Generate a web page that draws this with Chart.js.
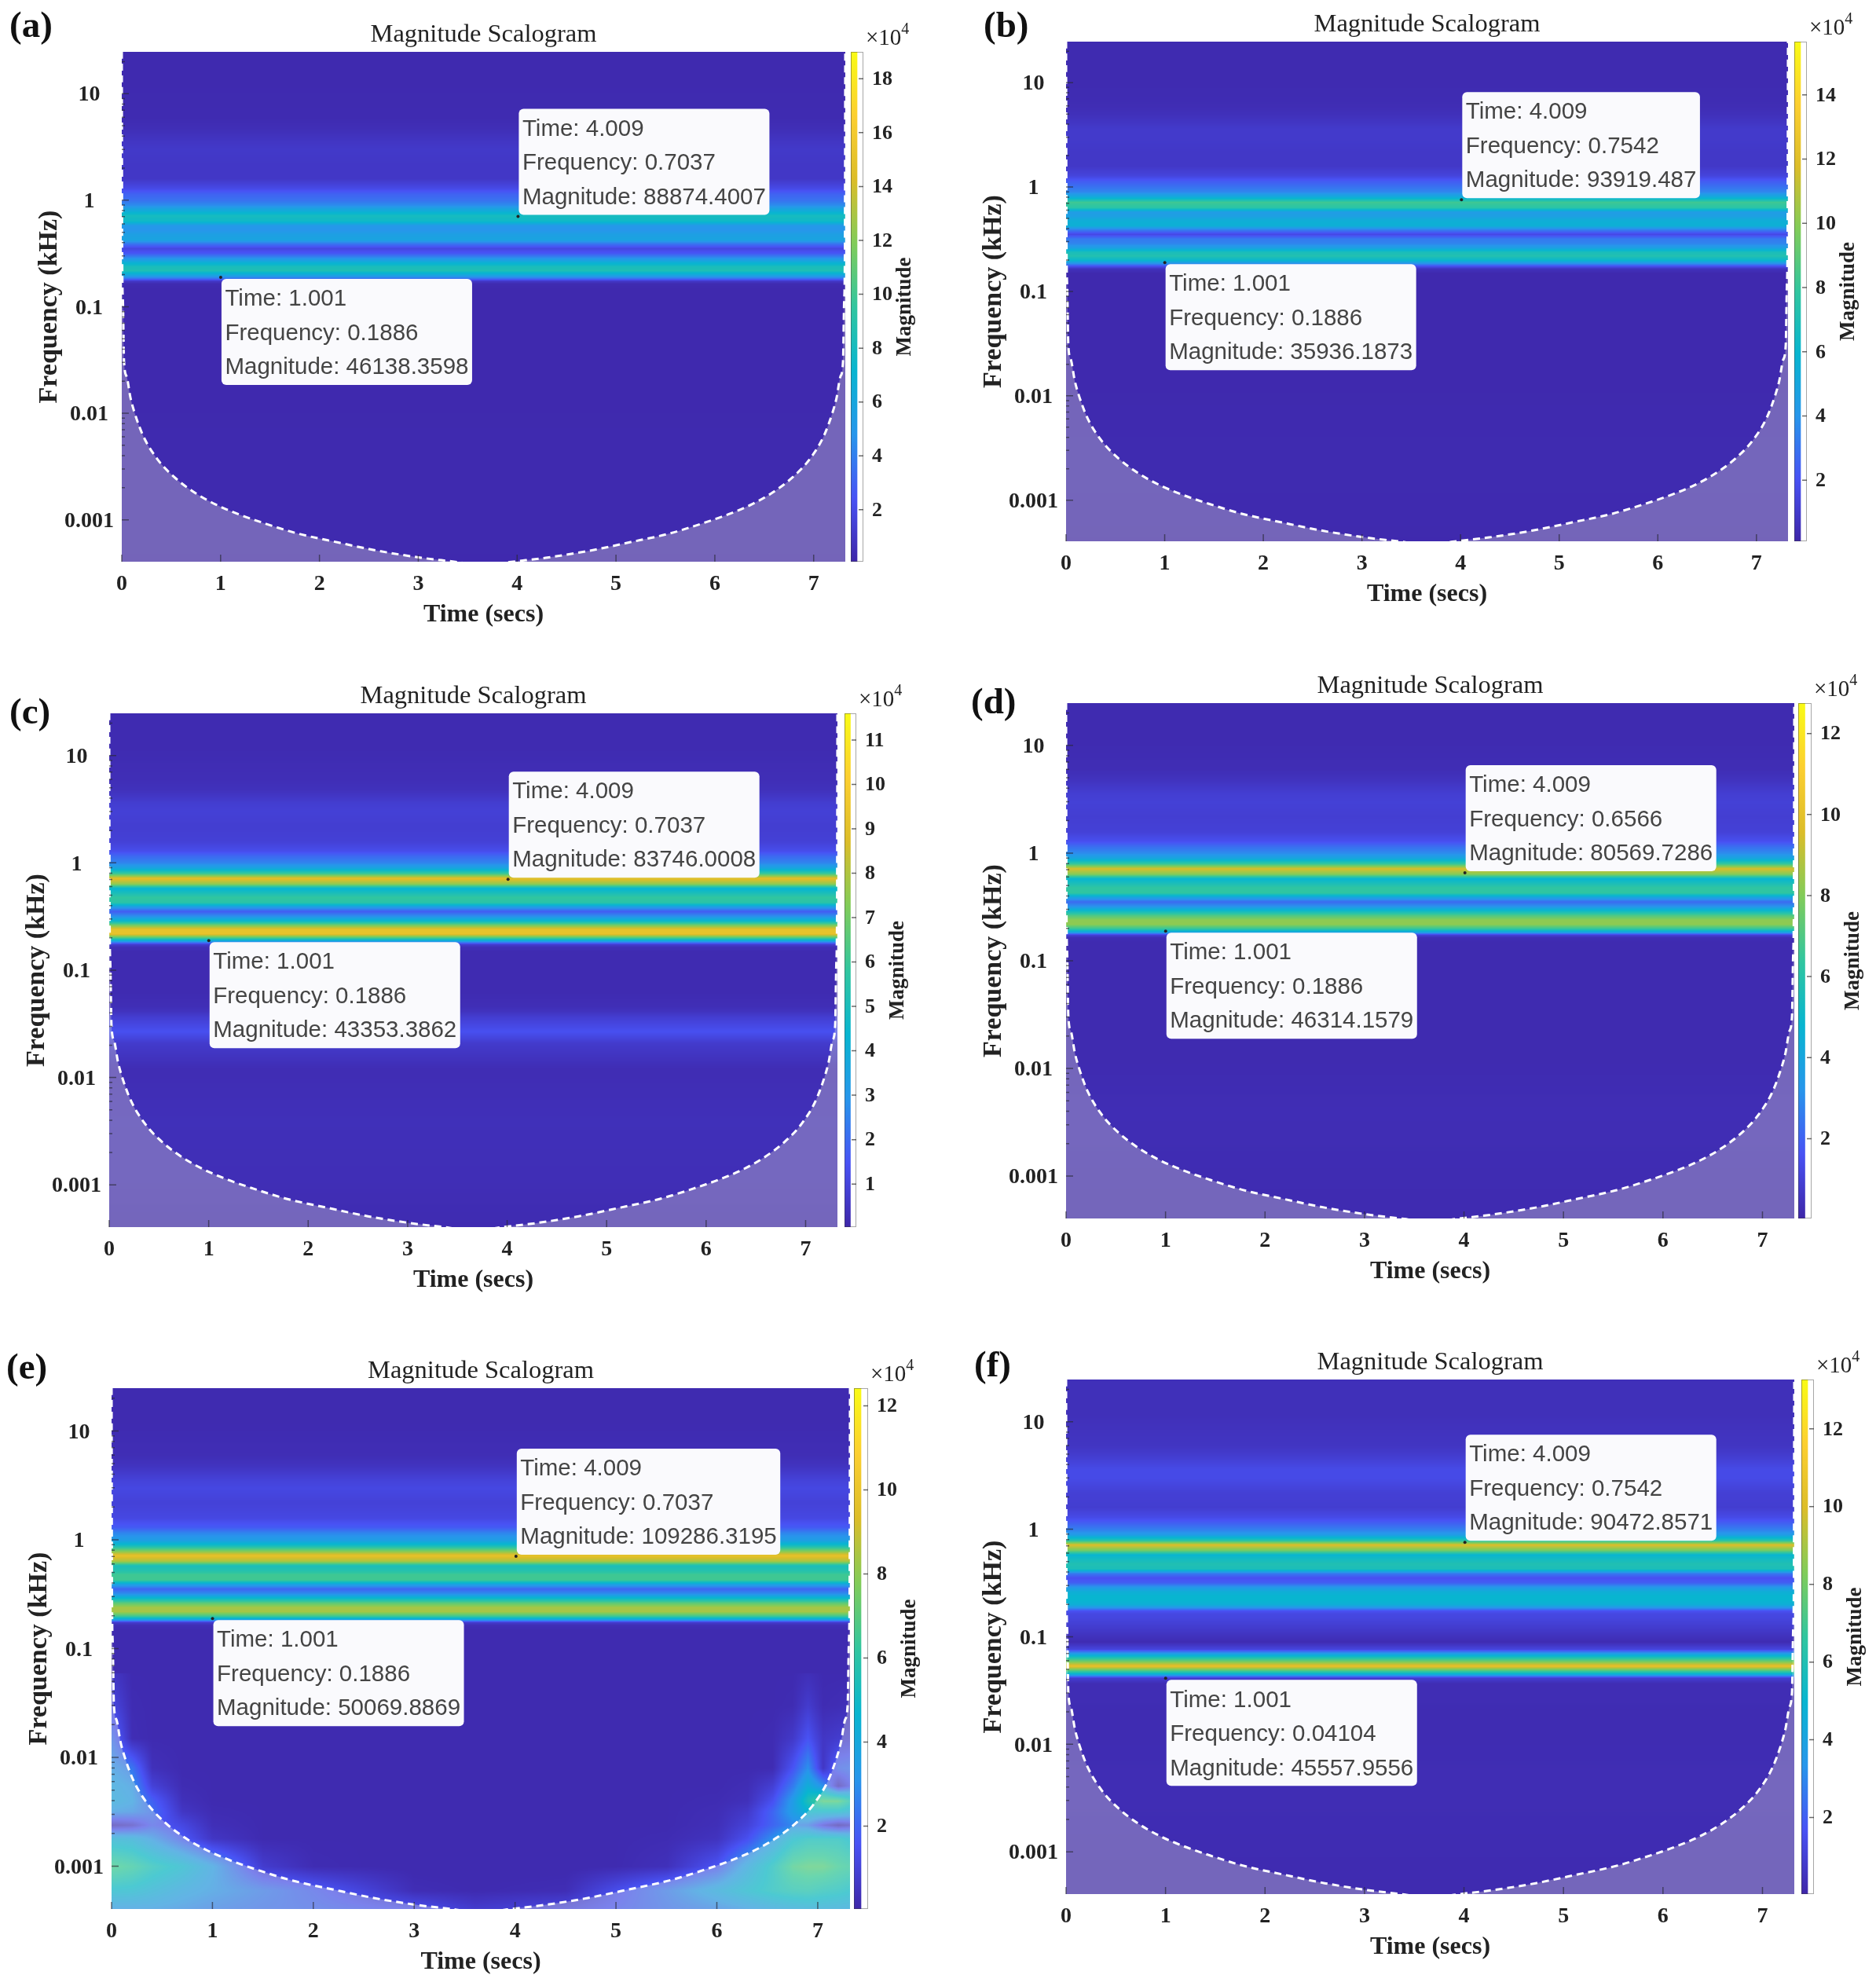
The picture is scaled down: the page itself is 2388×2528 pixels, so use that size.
<!DOCTYPE html>
<html>
<head>
<meta charset="utf-8">
<title>Magnitude Scalograms</title>
<script src="https://cdn.jsdelivr.net/npm/chart.js@4/dist/chart.umd.min.js"></script>
<style>
  html, body { margin: 0; padding: 0; background: #fff; }
  #page { position: relative; width: 2388px; height: 2528px; overflow: hidden; }
  #page canvas { position: absolute; }
  .tag { position: absolute; font: bold 47px "Liberation Serif", serif; color: #111; line-height: 1; }
</style>
</head>
<body>
<div id="page"></div>
<script>
// axis ticks
const timeTicks = [0, 1, 2, 3, 4, 5, 6, 7];
const freqTicks = [10, 1, 0.1, 0.01, 0.001];
const timeMax = 7.32;
const freqMax = 24.7;
const freqMin = 0.000404;

// frequency rows of the scalogram (kHz), top to bottom
const freqRows = [24.7, 12, 6, 4.8, 3.6, 3, 2.2,
  1.6, 1.3, 1.15, 1, 0.9, 0.8, 0.72, 0.64, 0.58, 0.53, 0.48, 0.43, 0.39, 0.355, 0.32, 0.29, 0.265, 0.24, 0.22, 0.2, 0.185, 0.175, 0.165, 0.15,
  0.12, 0.09, 0.0769, 0.0632, 0.0537, 0.0462, 0.0416, 0.0369, 0.027, 0.0208, 0.012, 0.004, 0.0012, 0.000404];

// magnitude per row (x 10^4)
const magA = [0.3, 0.3, 0.35, 0.5, 0.9, 1.1, 1,
  1, 2, 3, 3.6, 4.5, 6.5, 8, 7.6, 5, 4.8, 5.5, 5.8, 3.5, 1.8, 2.6, 4.5, 6.5, 8.2, 8.5, 6, 3.5, 1, 0.35, 0.25,
  0.25, 0.25, 0.25, 0.25, 0.25, 0.25, 0.25, 0.25, 0.25, 0.25, 0.25, 0.3, 0.3, 0.25];
const magB = [0.3, 0.3, 0.4, 0.6, 1, 1, 0.9,
  0.9, 1.4, 2.3, 3, 3.6, 5.5, 8.2, 7.6, 4.4, 4.6, 5.5, 5.6, 3.2, 1.6, 3.2, 3.5, 4.5, 6.8, 7.2, 6, 3.6, 1.8, 0.6, 0.25,
  0.25, 0.25, 0.25, 0.25, 0.25, 0.25, 0.25, 0.25, 0.25, 0.25, 0.25, 0.3, 0.3, 0.25];
const magC = [0.2, 0.2, 0.3, 0.4, 0.8, 0.9, 0.8,
  0.9, 1.3, 2, 2.6, 3.6, 6, 9, 7.5, 4.3, 5, 5.8, 5.6, 3.2, 1.7, 2.8, 4.5, 7, 9.2, 9.2, 6, 2.8, 0.8, 0.3, 0.2,
  0.2, 0.2, 0.2, 0.2, 0.25, 0.3, 0.45, 0.8, 1.4, 0.7, 0.25, 0.35, 0.3, 0.2];
const magD = [0.2, 0.2, 0.3, 0.5, 0.9, 1, 0.9,
  1, 1.5, 2.3, 3, 4, 6.5, 9.5, 8, 4.8, 5.5, 6.3, 6.3, 3.8, 2.2, 3.2, 5.3, 7, 8.2, 8.2, 6.5, 3.8, 1, 0.3, 0.2,
  0.2, 0.2, 0.2, 0.2, 0.2, 0.2, 0.2, 0.2, 0.2, 0.2, 0.2, 0.3, 0.25, 0.2];
const magE = [0.2, 0.2, 0.3, 0.5, 1, 1.2, 1,
  1.2, 1.8, 2.8, 3.5, 5, 7.5, 9.8, 8.5, 5.4, 5.7, 6.5, 6.5, 3.6, 2, 3, 5, 7, 8.4, 8.4, 6.5, 3.5, 0.8, 0.3, 0.2,
  0.2, 0.2, 0.2, 0.2, 0.2, 0.2, 0.2, 0.2, 0.2, 0.2, 0.2, 0.2, 0.2, 0.2];
const magF = [0.4, 0.4, 0.6, 0.9, 1.4, 1.4, 1,
  0.9, 1.4, 2, 2.8, 3.6, 6, 10, 8, 5, 5.5, 6, 5.8, 2.6, 1.6, 2, 3.5, 4.6, 5, 5, 4.6, 3, 1.6, 1.3, 1.2,
  0.8, 0.25, 1.2, 6.5, 10.5, 5.5, 0.9, 0.3, 0.3, 0.25, 0.25, 0.3, 0.25, 0.2];

// panel (e) only: low-frequency part that changes with time
const fieldTimes = [0, 0.2, 0.4, 0.7, 1, 1.5, 2, 3, 3.6, 4.5, 5, 5.5, 6, 6.3, 6.55, 6.75, 6.9, 7.05, 7.2, 7.32];
const fieldFreqs = [0.06, 0.03, 0.015, 0.008, 0.0055, 0.004, 0.0032, 0.0024, 0.0018, 0.001, 0.0006, 0.000404];
const fieldE = [
  [0.6, 0.2, 0.2, 0.2, 0.2, 0.2, 0.2, 0.2, 0.2, 0.2, 0.2, 0.2, 0.2, 0.2, 0.2, 0.2, 0.35, 0.2, 0.2, 0.2],
  [1.2, 0.25, 0.2, 0.2, 0.2, 0.2, 0.2, 0.2, 0.2, 0.2, 0.2, 0.2, 0.2, 0.2, 0.2, 0.25, 0.8, 0.25, 0.3, 0.4],
  [2.2, 0.3, 0.2, 0.2, 0.2, 0.2, 0.2, 0.2, 0.2, 0.2, 0.2, 0.2, 0.2, 0.2, 0.25, 0.7, 1.6, 0.6, 0.8, 0.9],
  [3, 2.4, 0.4, 0.2, 0.2, 0.2, 0.2, 0.2, 0.2, 0.2, 0.2, 0.2, 0.2, 0.2, 0.25, 1.6, 3, 0.6, 2, 2.2],
  [3.4, 3, 1, 0.25, 0.2, 0.2, 0.2, 0.2, 0.2, 0.2, 0.2, 0.2, 0.2, 0.3, 0.9, 2.5, 4.2, 3, 0.5, 1.5],
  [3.6, 3.2, 1.9, 0.4, 0.2, 0.2, 0.2, 0.2, 0.2, 0.2, 0.2, 0.2, 0.25, 0.4, 1.5, 3.4, 5.5, 6.8, 6.8, 5.5],
  [3, 2.8, 2.2, 0.6, 0.25, 0.2, 0.2, 0.2, 0.2, 0.2, 0.2, 0.2, 0.3, 0.7, 2, 3.5, 4.5, 4.5, 4.5, 4],
  [0.5, 0.8, 1.8, 1.2, 0.35, 0.2, 0.2, 0.2, 0.2, 0.2, 0.2, 0.2, 0.35, 1, 2, 2.8, 2.5, 1.2, 0.4, 0.8],
  [4, 3.8, 3, 1.7, 0.6, 0.2, 0.2, 0.2, 0.2, 0.2, 0.2, 0.25, 0.5, 1.5, 3, 4.5, 5, 5, 5, 4.5],
  [6.5, 6, 5.2, 4.4, 3.2, 0.8, 0.25, 0.15, 0.15, 0.15, 0.2, 0.4, 1.6, 3.5, 5, 6.5, 6.8, 6.8, 6.3, 6],
  [4.5, 4.4, 4, 3.4, 3, 2.4, 1.8, 0.3, 0.2, 0.3, 1.4, 2.4, 3.6, 4.4, 5, 5.4, 5.5, 5.2, 5, 4.7],
  [3, 3, 3, 2.8, 2.5, 2.2, 2, 1.5, 0.8, 1.2, 1.7, 2.2, 2.6, 3, 3.4, 3.6, 3.7, 3.7, 3.6, 3.5]
];

// cone of influence
const coiTimes = [0, 0.004, 0.012, 0.023, 0.05, 0.088, 0.127, 0.218, 0.361, 0.53, 0.737, 0.945, 1.178, 1.438, 1.775, 2.19, 2.6, 3.03, 3.4, 3.66,
  3.92, 4.29, 4.72, 5.13, 5.545, 5.882, 6.142, 6.375, 6.583, 6.79, 6.959, 7.102, 7.193, 7.232, 7.27, 7.297, 7.308, 7.316, 7.32];
const coiFreqs = [24.7, 0.33, 0.11, 0.0305, 0.022, 0.014, 0.0103, 0.0061, 0.0037, 0.00252, 0.0018, 0.0014, 0.00113, 0.00093, 0.000745, 0.000612, 0.00051, 0.00044, 0.0004, 0.00037,
  0.0004, 0.00044, 0.00051, 0.000612, 0.000745, 0.00093, 0.00113, 0.0014, 0.0018, 0.00252, 0.0037, 0.0061, 0.0103, 0.014, 0.022, 0.0305, 0.11, 0.33, 24.7];

// data tips
const tipTimes = [4.009, 1.001];
const tipFreqLabels = [
  ['0.7037', '0.1886'], ['0.7542', '0.1886'], ['0.7037', '0.1886'],
  ['0.6566', '0.1886'], ['0.7037', '0.1886'], ['0.7542', '0.04104']
];
const tipMagLabels = [
  ['88874.4007', '46138.3598'], ['93919.487', '35936.1873'], ['83746.0008', '43353.3862'],
  ['80569.7286', '46314.1579'], ['109286.3195', '50069.8869'], ['90472.8571', '45557.9556']
];

// colour bars
const barTicksA = [2, 4, 6, 8, 10, 12, 14, 16, 18];
const barTicksB = [2, 4, 6, 8, 10, 12, 14];
const barTicksC = [1, 2, 3, 4, 5, 6, 7, 8, 9, 10, 11];
const barTicksD = [2, 4, 6, 8, 10, 12];
const barTicksE = [2, 4, 6, 8, 10, 12];
const barTicksF = [2, 4, 6, 8, 10, 12];

const parula = [[62, 38, 168], [72, 82, 244], [39, 150, 235], [8, 181, 208], [49, 198, 159], [129, 204, 89], [220, 189, 41], [252, 207, 48], [249, 251, 21]];

const serif = '"Liberation Serif", serif';
const ink = '#222';

// where each panel sits on the page
const panels = [
  { tag: '(a)', tagX: 12, tagY: 8, L: 155, R: 1076, T: 66, B: 715, barL: 1083, barR: 1099, lo: 0.07, hi: 19, mags: magA, barTicks: barTicksA },
  { tag: '(b)', tagX: 1252, tagY: 8, L: 1357, R: 2276, T: 53, B: 689, barL: 2284, barR: 2300, lo: 0.1, hi: 15.66, mags: magB, barTicks: barTicksB },
  { tag: '(c)', tagX: 12, tagY: 882, L: 139, R: 1066, T: 908, B: 1562, barL: 1075, barR: 1090, lo: 0.03, hi: 11.6, mags: magC, barTicks: barTicksC },
  { tag: '(d)', tagX: 1236, tagY: 869, L: 1357, R: 2284, T: 895, B: 1551, barL: 2289, barR: 2306, lo: 0.03, hi: 12.75, mags: magD, barTicks: barTicksD },
  { tag: '(e)', tagX: 8, tagY: 1716, L: 142, R: 1082, T: 1767, B: 2430, barL: 1087, barR: 1105, lo: 0.03, hi: 12.42, mags: magE, barTicks: barTicksE, field: fieldE },
  { tag: '(f)', tagX: 1240, tagY: 1713, L: 1357, R: 2284, T: 1756, B: 2411, barL: 2293, barR: 2309, lo: 0.03, hi: 13.27, mags: magF, barTicks: barTicksF }
];

function parulaAt(t) {
  t = Math.max(0, Math.min(1, t)) * (parula.length - 1);
  const i = Math.min(parula.length - 2, Math.floor(t));
  const f = t - i;
  return parula[i].map((c, k) => c + (parula[i + 1][k] - c) * f);
}

// index of the knot just before v in an ascending list
function knotBefore(list, v) {
  let i = 0;
  while (i < list.length - 2 && list[i + 1] <= v) i++;
  return i;
}

// paints the scalogram, every row and column placed by the chart's scales
const scalogramPlugin = {
  id: 'scalogram',
  beforeDatasetsDraw(chart, args, opts) {
    const p = opts.panel;
    const { left, top, width, height } = chart.chartArea;
    const w = Math.round(width), h = Math.round(height);
    const off = document.createElement('canvas');
    off.width = w; off.height = h;
    const octx = off.getContext('2d');
    const img = octx.createImageData(w, h);
    const xs = chart.scales.x, ys = chart.scales.y;
    const rowPx = freqRows.map(f => ys.getPixelForValue(f) - top);
    const fieldRowPx = fieldFreqs.map(f => ys.getPixelForValue(f) - top);
    const fieldColPx = fieldTimes.map(t => xs.getPixelForValue(t) - left);
    for (let y = 0; y < h; y++) {
      const r = knotBefore(rowPx, y);
      const fy = Math.min(1, (y - rowPx[r]) / (rowPx[r + 1] - rowPx[r]));
      const base = p.mags[r] + (p.mags[r + 1] - p.mags[r]) * fy;
      const useField = p.field && y >= fieldRowPx[0];
      const fr = useField ? knotBefore(fieldRowPx, y) : 0;
      const gy = useField ? Math.min(1, (y - fieldRowPx[fr]) / (fieldRowPx[fr + 1] - fieldRowPx[fr])) : 0;
      for (let x = 0; x < w; x++) {
        let v = base;
        if (useField) {
          const c = knotBefore(fieldColPx, x);
          const gx = Math.min(1, (x - fieldColPx[c]) / (fieldColPx[c + 1] - fieldColPx[c]));
          const upper = p.field[fr][c] + (p.field[fr][c + 1] - p.field[fr][c]) * gx;
          const lower = p.field[fr + 1][c] + (p.field[fr + 1][c + 1] - p.field[fr + 1][c]) * gx;
          v = Math.max(base, upper + (lower - upper) * gy);
        }
        const rgb = parulaAt((v - p.lo) / (p.hi - p.lo));
        const o = (y * w + x) * 4;
        img.data[o] = rgb[0]; img.data[o + 1] = rgb[1]; img.data[o + 2] = rgb[2]; img.data[o + 3] = 255;
      }
    }
    octx.putImageData(img, 0, 0);
    chart.ctx.drawImage(off, left, top, width, height);
  },
  afterDatasetsDraw(chart, args, opts) {
    const ctx = chart.ctx;
    const { left, top, right, bottom } = chart.chartArea;
    const xs = chart.scales.x, ys = chart.scales.y;
    ctx.save();
    // short inward ticks
    ctx.strokeStyle = 'rgba(40,40,50,0.65)';
    ctx.lineWidth = 1.5;
    ctx.beginPath();
    timeTicks.forEach(t => {
      const x = xs.getPixelForValue(t);
      ctx.moveTo(x, bottom); ctx.lineTo(x, bottom - 9);
    });
    freqTicks.forEach(f => {
      const y = ys.getPixelForValue(f);
      ctx.moveTo(left, y); ctx.lineTo(left + 9, y);
      [2, 3, 4, 5, 6, 7, 8, 9].forEach(m => {
        const v = f * m;
        if (v < freqMax) {
          const my = ys.getPixelForValue(v);
          ctx.moveTo(left, my); ctx.lineTo(left + 4, my);
        }
      });
    });
    ctx.stroke();

    // data tips
    const idx = opts.index;
    ctx.font = '29.5px "Liberation Sans", sans-serif';
    tipTimes.forEach((t, i) => {
      const freq = tipFreqLabels[idx][i];
      const lines = ['Time: ' + t.toFixed(3), 'Frequency: ' + freq, 'Magnitude: ' + tipMagLabels[idx][i]];
      const boxW = Math.max(...lines.map(s => ctx.measureText(s).width)) + 9;
      const boxH = 135;
      const px = xs.getPixelForValue(t), py = ys.getPixelForValue(Number(freq));
      const bx = px + 1;
      const by = i === 0 ? py - boxH - 2 : py + 2;
      ctx.fillStyle = 'rgb(250,250,253)';
      ctx.beginPath();
      ctx.roundRect(bx, by, boxW, boxH, 6);
      ctx.fill();
      ctx.fillStyle = '#444';
      ctx.textAlign = 'left';
      ctx.textBaseline = 'middle';
      lines.forEach((s, k) => ctx.fillText(s, bx + 4.5, by + 26 + k * 43.5));
    });
    ctx.restore();
  }
};

function mainChart(p, index) {
  const canvas = document.createElement('canvas');
  canvas.width = p.R - p.L + 260;
  canvas.height = p.B - p.T + 56 + 85;
  canvas.style.left = (p.L - 130) + 'px';
  canvas.style.top = (p.T - 56) + 'px';
  document.getElementById('page').appendChild(canvas);
  const tipFreqs = tipFreqLabels[index].map(Number);
  new Chart(canvas, {
    type: 'scatter',
    data: {
      datasets: [
        {
          data: coiTimes.map((t, i) => ({ x: t, y: coiFreqs[i] })),
          showLine: true,
          cubicInterpolationMode: 'monotone',
          borderColor: '#fff',
          borderWidth: 3,
          borderDash: [9, 6],
          pointRadius: 0,
          fill: 'start',
          backgroundColor: 'rgba(255,255,215,0.28)'
        },
        {
          data: tipTimes.map((t, i) => ({ x: t, y: tipFreqs[i] })),
          pointRadius: 2,
          pointBackgroundColor: '#222',
          pointBorderWidth: 0
        }
      ]
    },
    options: {
      responsive: false,
      animation: false,
      devicePixelRatio: 1,
      plugins: {
        legend: { display: false },
        tooltip: { enabled: false },
        title: {
          display: true,
          text: 'Magnitude Scalogram',
          color: ink,
          font: { family: serif, size: 32.5, weight: 'normal', lineHeight: 1.2 },
          padding: { top: 15, bottom: 2 }
        },
        scalogram: { panel: p, index: index }
      },
      scales: {
        x: {
          type: 'linear',
          min: 0,
          max: timeMax,
          grid: { display: false, drawTicks: false },
          border: { display: false },
          afterBuildTicks: s => { s.ticks = timeTicks.map(v => ({ value: v })); },
          afterFit: s => { s.height = 85; },
          ticks: {
            color: ink, padding: 12, maxRotation: 0, autoSkip: false,
            font: { family: serif, size: 28, weight: 'bold' },
            callback: v => String(v)
          },
          title: {
            display: true, text: 'Time (secs)', color: ink, padding: { top: 0, bottom: -2 },
            font: { family: serif, size: 32, weight: 'bold', lineHeight: 1.2 }
          }
        },
        y: {
          type: 'logarithmic',
          min: freqMin,
          max: freqMax,
          grid: { display: false, drawTicks: false },
          border: { display: false },
          afterBuildTicks: s => { s.ticks = freqTicks.map(v => ({ value: v })); },
          afterFit: s => { s.width = 130; },
          ticks: {
            color: ink, padding: 10, autoSkip: false, crossAlign: 'center', labelOffset: 2,
            font: { family: serif, size: 28, weight: 'bold' },
            callback: v => String(v)
          },
          title: {
            display: true, text: 'Frequency (kHz)', color: ink, padding: { top: 18, bottom: 0 },
            font: { family: serif, size: 34, weight: 'bold', lineHeight: 1.2 }
          }
        },
        // empty axis, it balances the left margin so the title centres on the plot
        spare: {
          type: 'linear',
          position: 'right',
          grid: { display: false, drawTicks: false },
          border: { display: false },
          ticks: { display: false },
          afterFit: s => { s.width = 130; }
        }
      }
    },
    plugins: [scalogramPlugin]
  });
}

const barPlugin = {
  id: 'barLabels',
  afterDraw(chart) {
    const ctx = chart.ctx;
    const { left, top, right, bottom } = chart.chartArea;
    const ys = chart.scales.y;
    ctx.save();
    ctx.strokeStyle = 'rgba(60,60,60,0.45)';
    ctx.lineWidth = 1;
    ctx.strokeRect(left + 0.5, top + 0.5, right - left - 1, bottom - top - 1);
    ctx.strokeStyle = 'rgba(40,40,40,0.7)';
    ctx.lineWidth = 1.5;
    ctx.beginPath();
    ys.ticks.forEach(t => {
      const y = ys.getPixelForValue(t.value);
      ctx.moveTo(right, y); ctx.lineTo(right - 6, y);
    });
    ctx.stroke();
    // exponent above the bar
    ctx.fillStyle = ink;
    ctx.textBaseline = 'middle';
    ctx.textAlign = 'left';
    ctx.font = '29px ' + serif;
    ctx.fillText('\u00d710', right + 3, top - 17);
    const w = ctx.measureText('\u00d710').width;
    ctx.font = '20px ' + serif;
    ctx.fillText('4', right + 3 + w, top - 28);
    // bar title, reads upwards
    ctx.translate(right + 53, (top + bottom) / 2);
    ctx.rotate(-Math.PI / 2);
    ctx.textAlign = 'center';
    ctx.font = 'bold 27px ' + serif;
    ctx.fillText('Magnitude', 0, 0);
    ctx.restore();
  }
};

function colorBar(p) {
  const canvas = document.createElement('canvas');
  const axisW = 90;
  canvas.width = p.barR - p.barL + axisW;
  canvas.height = p.B - p.T + 66;
  canvas.style.left = p.barL + 'px';
  canvas.style.top = (p.T - 56) + 'px';
  document.getElementById('page').appendChild(canvas);
  new Chart(canvas, {
    type: 'bar',
    data: {
      labels: ['Magnitude'],
      datasets: [{
        data: [[p.lo, p.hi]],
        categoryPercentage: 1,
        barPercentage: 1,
        backgroundColor: c => {
          const area = c.chart.chartArea;
          if (!area) return 'transparent';
          const g = c.chart.ctx.createLinearGradient(0, area.bottom, 0, area.top);
          parula.forEach((rgb, i) => g.addColorStop(i / (parula.length - 1), 'rgb(' + rgb.join(',') + ')'));
          return g;
        }
      }]
    },
    options: {
      responsive: false,
      animation: false,
      devicePixelRatio: 1,
      layout: { padding: { top: 56, bottom: 10 } },
      plugins: { legend: { display: false }, tooltip: { enabled: false } },
      scales: {
        x: { display: false, offset: false },
        y: {
          position: 'right',
          min: p.lo,
          max: p.hi,
          grid: { display: false, drawTicks: false },
          border: { display: false },
          afterBuildTicks: s => { s.ticks = p.barTicks.map(v => ({ value: v })); },
          afterFit: s => { s.width = axisW; s.paddingTop = 0; s.paddingBottom = 0; },
          ticks: {
            color: ink, padding: 11, autoSkip: false, labelOffset: 1,
            font: { family: serif, size: 26, weight: 'bold' },
            callback: v => String(v)
          }
        }
      }
    },
    plugins: [barPlugin]
  });
}

panels.forEach((p, i) => {
  mainChart(p, i);
  colorBar(p);
  const tag = document.createElement('div');
  tag.className = 'tag';
  tag.textContent = p.tag;
  tag.style.left = p.tagX + 'px';
  tag.style.top = p.tagY + 'px';
  document.getElementById('page').appendChild(tag);
});
</script>
</body>
</html>
